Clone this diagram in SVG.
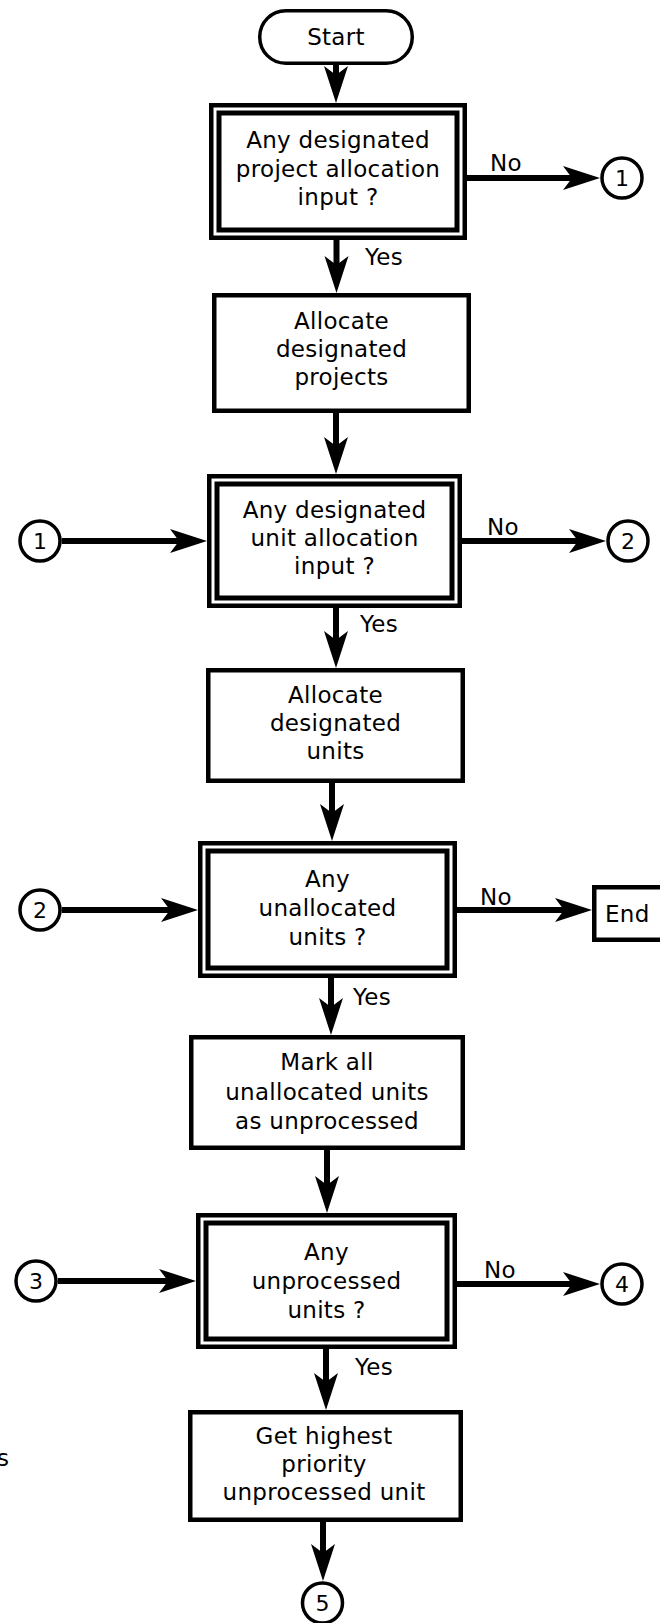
<svg xmlns="http://www.w3.org/2000/svg" width="660" height="1623" viewBox="0 0 660 1623">
  <style>
    .box{fill:#fff;stroke:#000;stroke-width:4.5}
    .dout{fill:#fff;stroke:#000;stroke-width:4.5}
    .din{fill:none;stroke:#000;stroke-width:5}
    .term{fill:#fff;stroke:#000;stroke-width:3.5}
    .conn{fill:#fff;stroke:#000;stroke-width:3.5}
    .flow{fill:none;stroke:#000;stroke-width:6;marker-end:url(#ah)}
    text{font-family:"DejaVu Sans","Open Sans",sans-serif;font-size:23px;letter-spacing:0.3px;fill:#000}
    .c{text-anchor:middle}
    .num{font-size:22px;letter-spacing:0}
  </style>
  <defs>
    <!-- barbed arrowhead; tip lies 25px past the end of the shaft -->
    <marker id="ah" markerUnits="userSpaceOnUse" markerWidth="38" markerHeight="26" viewBox="0 0 38 26" refX="12" refY="13" orient="auto">
      <path d="M0,1 L37,13 L0,25 L9,13 Z" fill="#000"/>
    </marker>
  </defs>
  <rect width="660" height="1623" fill="#fff"/>

  <g id="start">
    <rect class="term" x="259.75" y="10.75" width="152.5" height="52.5" rx="26"/>
    <text class="c" x="336" y="45">Start</text>
  </g>

  <g id="q-project-input">
    <rect class="dout" x="211.25" y="105.25" width="253.5" height="132.5"/>
    <rect class="din" x="219" y="113" width="238" height="117"/>
    <text class="c" x="338" y="148">Any designated</text>
    <text class="c" x="338" y="177">project allocation</text>
    <text class="c" x="338" y="205">input ?</text>
  </g>

  <g id="alloc-projects">
    <rect class="box" x="214.25" y="295.25" width="254.5" height="115.5"/>
    <text class="c" x="341.5" y="329">Allocate</text>
    <text class="c" x="341.5" y="357">designated</text>
    <text class="c" x="341.5" y="385">projects</text>
  </g>

  <g id="q-unit-input">
    <rect class="dout" x="209.25" y="476.25" width="250.5" height="129.5"/>
    <rect class="din" x="217" y="484" width="235" height="114"/>
    <text class="c" x="334.5" y="518">Any designated</text>
    <text class="c" x="334.5" y="546">unit allocation</text>
    <text class="c" x="334.5" y="574">input ?</text>
  </g>

  <g id="alloc-units">
    <rect class="box" x="208.25" y="670.25" width="254.5" height="110.5"/>
    <text class="c" x="335.5" y="703">Allocate</text>
    <text class="c" x="335.5" y="731">designated</text>
    <text class="c" x="335.5" y="759">units</text>
  </g>

  <g id="q-unallocated">
    <rect class="dout" x="200.25" y="843.25" width="254.5" height="132.5"/>
    <rect class="din" x="208" y="851" width="239" height="117"/>
    <text class="c" x="327.5" y="887">Any</text>
    <text class="c" x="327.5" y="916">unallocated</text>
    <text class="c" x="327.5" y="945">units ?</text>
  </g>

  <g id="end">
    <rect class="box" x="594.25" y="887.25" width="100" height="52.5"/>
    <text x="605" y="922">End</text>
  </g>

  <g id="mark-unprocessed">
    <rect class="box" x="191.25" y="1037.25" width="271.5" height="110.5"/>
    <text class="c" x="327" y="1070">Mark all</text>
    <text class="c" x="327" y="1100">unallocated units</text>
    <text class="c" x="327" y="1129">as unprocessed</text>
  </g>

  <g id="q-unprocessed">
    <rect class="dout" x="198.25" y="1215.25" width="256.5" height="131.5"/>
    <rect class="din" x="206" y="1223" width="241" height="116"/>
    <text class="c" x="326.5" y="1260">Any</text>
    <text class="c" x="326.5" y="1289">unprocessed</text>
    <text class="c" x="326.5" y="1318">units ?</text>
  </g>

  <g id="get-highest">
    <rect class="box" x="190.25" y="1412.25" width="270.5" height="107.5"/>
    <text class="c" x="324" y="1444">Get highest</text>
    <text class="c" x="324" y="1472">priority</text>
    <text class="c" x="324" y="1500">unprocessed unit</text>
  </g>

  <g id="off-page-1-out">
    <circle class="conn" cx="622" cy="178" r="20"/>
    <text class="c num" x="622" y="186">1</text>
  </g>
  <g id="off-page-1-in">
    <circle class="conn" cx="40" cy="541" r="20"/>
    <text class="c num" x="40" y="549">1</text>
  </g>
  <g id="off-page-2-out">
    <circle class="conn" cx="628" cy="541" r="20"/>
    <text class="c num" x="628" y="549">2</text>
  </g>
  <g id="off-page-2-in">
    <circle class="conn" cx="40" cy="910" r="20"/>
    <text class="c num" x="40" y="918">2</text>
  </g>
  <g id="off-page-3-in">
    <circle class="conn" cx="36" cy="1281" r="20"/>
    <text class="c num" x="36" y="1289">3</text>
  </g>
  <g id="off-page-4-out">
    <circle class="conn" cx="622" cy="1284" r="20"/>
    <text class="c num" x="622" y="1292">4</text>
  </g>
  <g id="off-page-5-out">
    <circle class="conn" cx="322.5" cy="1603" r="20"/>
    <text class="c num" x="322.5" y="1611">5</text>
  </g>

  <g id="connectors">
    <path class="flow" d="M336,65 V78"/>
    <path class="flow" d="M336.5,240 V268"/>
    <path class="flow" d="M336,413 V449"/>
    <path class="flow" d="M336,608 V643"/>
    <path class="flow" d="M332,783 V816"/>
    <path class="flow" d="M331,978 V1010"/>
    <path class="flow" d="M327,1150 V1188"/>
    <path class="flow" d="M326,1349 V1385"/>
    <path class="flow" d="M323,1522 V1556"/>
    <path class="flow" d="M467,178 H575"/>
    <path class="flow" d="M61.75,541 H182"/>
    <path class="flow" d="M462,541 H581"/>
    <path class="flow" d="M61.75,910 H173"/>
    <path class="flow" d="M457,910 H567"/>
    <path class="flow" d="M57.75,1281 H171"/>
    <path class="flow" d="M457,1284 H575"/>
  </g>

  <g id="labels">
    <text x="365" y="265">Yes</text>
    <text x="490" y="171">No</text>
    <text x="360" y="632">Yes</text>
    <text x="487" y="535">No</text>
    <text x="353" y="1005">Yes</text>
    <text x="480" y="905">No</text>
    <text x="355" y="1375">Yes</text>
    <text x="484" y="1278">No</text>
    <text x="-3" y="1466">s</text>
  </g>
</svg>
